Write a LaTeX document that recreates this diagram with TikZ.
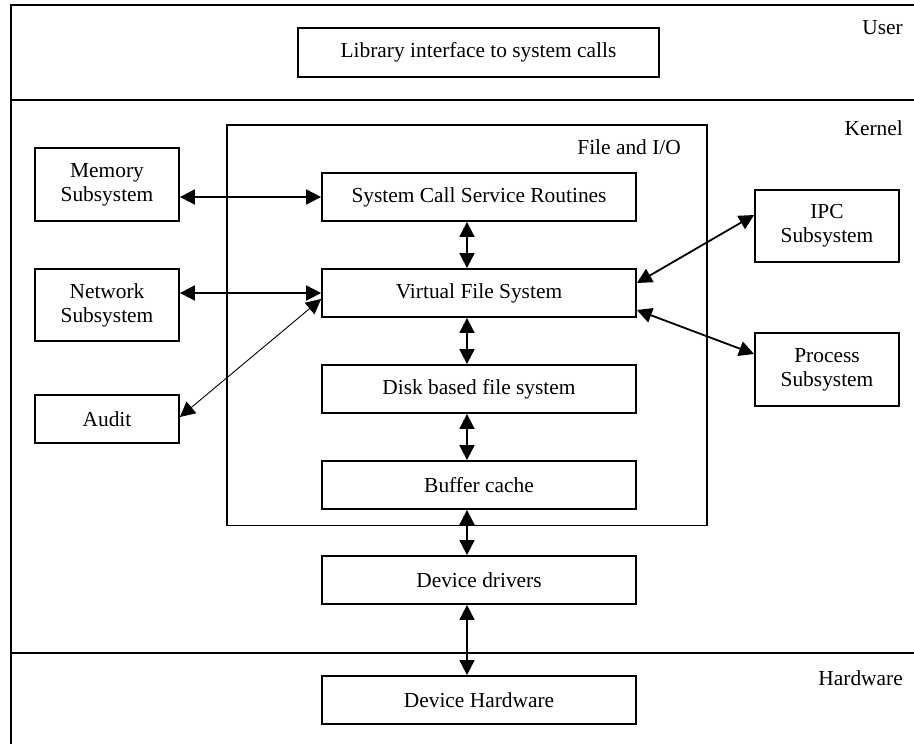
\documentclass[tikz,border=0pt]{standalone}
\usepackage{fontspec}
\setmainfont{Liberation Serif}
\usetikzlibrary{arrows.meta,calc}
\begin{document}
\begin{tikzpicture}[x=1pt,y=-1pt,
  every node/.style={font=\fontsize{21.4}{24}\selectfont},
  box/.style={draw, line width=1.8pt, inner sep=0pt, align=center,
    minimum width=314pt, minimum height=48pt},
  sidebox/.style={box, minimum width=144pt},
  frame/.style={line width=2pt},
  link/.style={line width=1.8pt,
    {Triangle[length=15pt,width=15pt]}-{Triangle[length=15pt,width=15pt]}},
  thinlink/.style={link, line width=0.9pt},
  tag/.style={anchor=east, inner sep=0pt}]

\useasboundingbox (0,0) rectangle (914,744);

% layer frame
\draw[frame] (914,5) -- (11,5) -- (11,744);
\draw[frame] (11,99.5) -- (914,99.5);
\draw[frame] (11,652.5) -- (914,652.5);

% layer names
\node[tag] (user)   at (903,28)  {User};
\node[tag] (kernel) at (903,128) {Kernel};
\node[tag] (hwtag)  at (903,678) {Hardware};

% user space
\node[box, minimum width=361pt, minimum height=49pt] (lib) at (478.5,52.5)
  {Library interface to system calls};

% file and I/O subsystem
\node[draw, line width=1.8pt, inner sep=0pt, minimum width=480pt,
  minimum height=400.5pt] (fio) at (467,325.25) {};
\node[tag] (fiotag) at (681,147) {File and I/O};

\node[box] (sys)  at (479,197) {System Call Service Routines};
\node[box] (vfs)  at (479,293) {Virtual File System};
\node[box] (disk) at (479,389) {Disk based file system};
\node[box] (buf)  at (479,485) {Buffer cache};
\node[box] (dev)  at (479,580) {Device drivers};
\node[box] (hw)   at (479,700) {Device Hardware};

% neighbouring kernel subsystems
\node[sidebox, minimum height=73pt] (mem)   at (107,184.5) {Memory\\Subsystem};
\node[sidebox, minimum height=72pt] (net)   at (107,305)   {Network\\Subsystem};
\node[sidebox]                      (audit) at (107,419)   {Audit};
\node[sidebox, minimum height=72pt] (ipc)   at (827,226)   {IPC\\Subsystem};
\node[sidebox, minimum height=73pt] (proc)  at (827,369.5) {Process\\Subsystem};

% vertical data path
\coordinate (ax) at (467,0);
\draw[link] (sys.south -| ax)  -- (vfs.north -| ax);
\draw[link] (vfs.south -| ax)  -- (disk.north -| ax);
\draw[link] (disk.south -| ax) -- (buf.north -| ax);
\draw[link] (buf.south -| ax)  -- (dev.north -| ax);
\draw[link] (dev.south -| ax)  -- (hw.north -| ax);

% side connections
\draw[link] (mem.east |- sys.west) -- (sys.west);
\draw[link] (net.east |- vfs.west) -- (vfs.west);
\draw[thinlink] ([yshift=-6pt]vfs.west) -- ([yshift=2pt]audit.east);
\draw[link] ([yshift=10pt]vfs.east) -- ([yshift=11pt]ipc.west);
\draw[link] ([yshift=-17pt]vfs.east) -- ([yshift=15.5pt]proc.west);

\end{tikzpicture}
\end{document}
